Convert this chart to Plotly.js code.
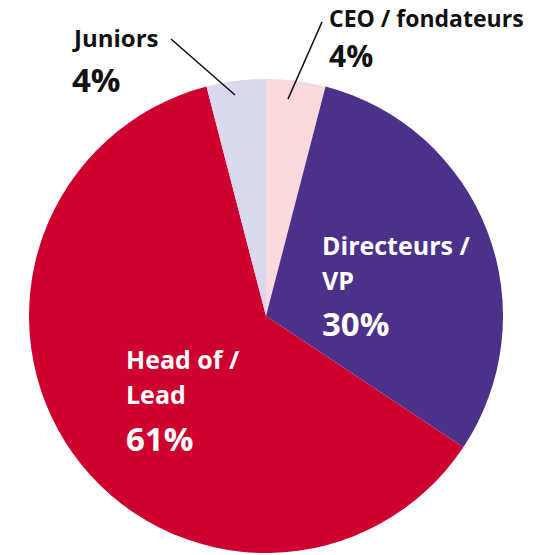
<!DOCTYPE html>
<html>
<head>
<meta charset="utf-8">
<script src="https://cdn.plot.ly/plotly-3.0.1.min.js"></script>
<style>html,body{margin:0;padding:0;background:#fff;}#chart{width:555px;height:555px;}</style>
</head>
<body>
<div id="chart"></div>
<script>
const categories = ["CEO / fondateurs", "Directeurs / VP", "Head of / Lead", "Juniors"];
const values = [4, 30, 61, 4];
const percentLabels = ["4%", "30%", "61%", "4%"];
const nameLines = [["CEO / fondateurs"], ["Directeurs /", "VP"], ["Head of /", "Lead"], ["Juniors"]];
const colors = ["#f9d9de", "#4b3189", "#ce0030", "#d9d8ec"];

const W = 555, H = 555;
const px = x => x / W;
const py = y => 1 - y / H;
const FONT = "Open Sans, sans-serif";

// label layout: left x, cap-centre y of each name line, cap-centre y of percent, sizes, colour
const labelPos = [
  {x: 327, names: [18], pct: 56, nameSize: 23, pctSize: 30, color: "#111111"},
  {x: 320, names: [245, 280.5], pct: 323, nameSize: 25, pctSize: 33, color: "#ffffff"},
  {x: 124, names: [358.5, 393.5], pct: 438, nameSize: 25, pctSize: 33, color: "#ffffff"},
  {x: 70,  names: [38], pct: 80, nameSize: 24, pctSize: 33, color: "#111111"}
];

const annotations = [];
categories.forEach((c, i) => {
  const p = labelPos[i];
  nameLines[i].forEach((ln, j) => {
    annotations.push({
      text: ln, xref: "paper", yref: "paper", x: px(p.x), y: py(p.names[j]),
      xanchor: "left", yanchor: "middle", showarrow: false,
      font: {family: FONT, size: p.nameSize, color: p.color, weight: 700}
    });
  });
  annotations.push({
    text: percentLabels[i], xref: "paper", yref: "paper", x: px(p.x), y: py(p.pct),
    xanchor: "left", yanchor: "middle", showarrow: false,
    font: {family: FONT, size: p.pctSize, color: p.color, weight: 700}
  });
});

const shapes = [
  {type: "line", xref: "paper", yref: "paper", x0: px(322), y0: py(22), x1: px(288), y1: py(99), line: {color: "#111", width: 1.6}},
  {type: "line", xref: "paper", yref: "paper", x0: px(171), y0: py(39), x1: px(235), y1: py(95), line: {color: "#111", width: 1.6}}
];

const data = [{
  type: "pie",
  labels: categories,
  values: values,
  sort: false,
  direction: "clockwise",
  rotation: 0,
  textinfo: "none",
  hoverinfo: "label+percent",
  marker: {colors: colors, line: {width: 0}},
  domain: {x: [px(29), px(503)], y: [1 - 553 / H, 1 - 79 / H]}
}];

const layout = {
  width: W, height: H,
  margin: {l: 0, r: 0, t: 0, b: 0},
  showlegend: false,
  paper_bgcolor: "#ffffff",
  annotations: annotations,
  shapes: shapes
};

Plotly.newPlot("chart", data, layout, {displayModeBar: false, staticPlot: true});
</script>
</body>
</html>
